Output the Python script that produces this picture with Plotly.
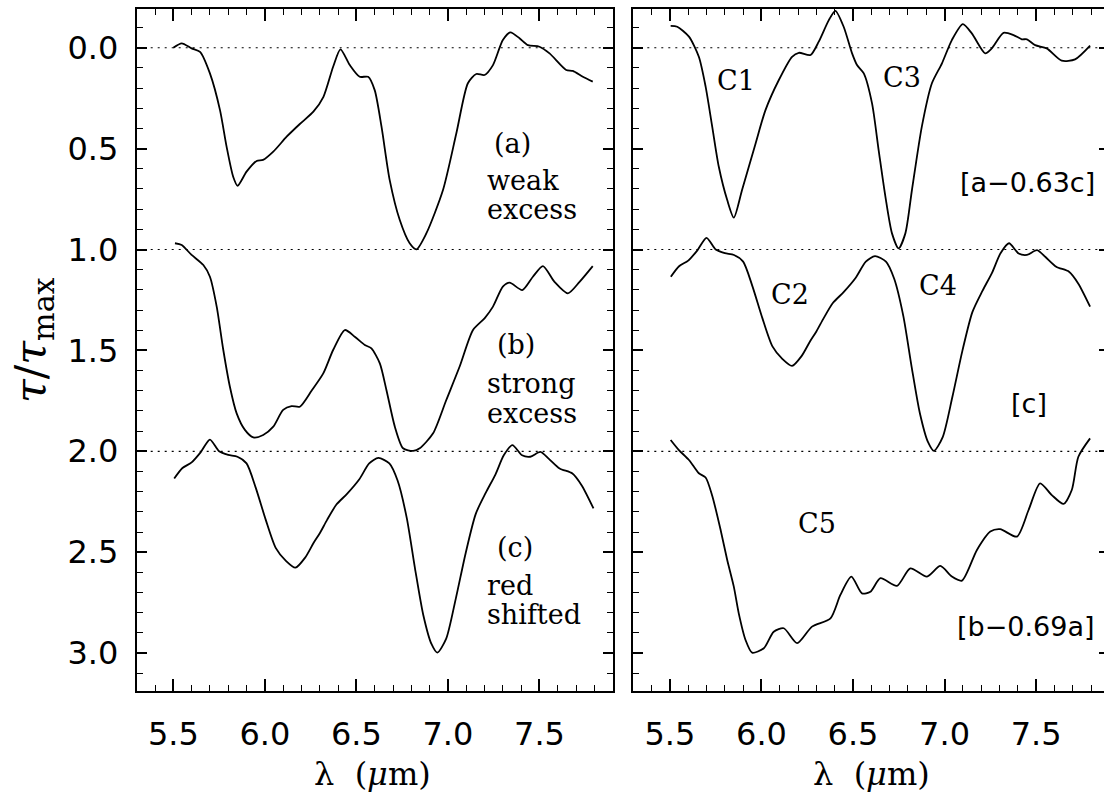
import plotly.graph_objects as go

# ---- profiles: wavelength (micron) and normalised optical depth tau/tau_max ----
# (a) weak excess
a_wl = [5.50, 5.546, 5.60, 5.646, 5.70, 5.755, 5.791, 5.827, 5.851, 5.90, 5.955, 5.99,
        6.046, 6.119, 6.191, 6.265, 6.32, 6.373, 6.413, 6.464, 6.518, 6.564, 6.60, 6.637,
        6.682, 6.737, 6.791, 6.828, 6.882, 6.973, 7.046, 7.109, 7.155, 7.20, 7.246, 7.30,
        7.341, 7.391, 7.437, 7.50, 7.555, 7.646, 7.682, 7.737, 7.791]
a_tau = [0.0, -0.022, 0.003, 0.02, 0.127, 0.309, 0.49, 0.639, 0.684, 0.614, 0.561, 0.556,
         0.515, 0.441, 0.378, 0.317, 0.243, 0.094, 0.008, 0.086, 0.144, 0.144, 0.21, 0.39,
         0.656, 0.854, 0.969, 0.999, 0.92, 0.705, 0.424, 0.176, 0.13, 0.135, 0.086, -0.038,
         -0.076, -0.047, -0.013, -0.005, 0.028, 0.11, 0.115, 0.144, 0.168]

# (b) strong excess
b_wl = [5.509, 5.546, 5.60, 5.664, 5.70, 5.737, 5.773, 5.809, 5.846, 5.891, 5.937, 5.991,
        6.046, 6.10, 6.146, 6.191, 6.255, 6.319, 6.373, 6.437, 6.491, 6.546, 6.582, 6.628,
        6.664, 6.71, 6.755, 6.81, 6.846, 6.919, 6.991, 7.064, 7.137, 7.20, 7.246, 7.30,
        7.337, 7.406, 7.464, 7.519, 7.582, 7.655, 7.719, 7.791]
b_tau = [-0.031, -0.022, 0.027, 0.077, 0.135, 0.283, 0.498, 0.68, 0.812, 0.894, 0.931, 0.919,
         0.878, 0.795, 0.776, 0.779, 0.70, 0.614, 0.498, 0.399, 0.432, 0.473, 0.49, 0.564,
         0.696, 0.878, 0.985, 0.998, 0.985, 0.911, 0.746, 0.58, 0.399, 0.341, 0.283, 0.184,
         0.164, 0.201, 0.135, 0.082, 0.16, 0.217, 0.16, 0.082]

# (c) red shifted
c_wl = [5.505, 5.55, 5.60, 5.65, 5.70, 5.75, 5.80, 5.85, 5.90, 5.95, 6.005, 6.06, 6.115,
        6.167, 6.22, 6.265, 6.30, 6.34, 6.39, 6.45, 6.515, 6.57, 6.62, 6.68, 6.725, 6.775,
        6.82, 6.865, 6.91, 6.942, 6.99, 7.043, 7.098, 7.152, 7.207, 7.26, 7.305, 7.352,
        7.405, 7.45, 7.505, 7.55, 7.61, 7.68, 7.73, 7.795]
c_tau = [0.135, 0.083, 0.055, 0.004, -0.058, 0.0, 0.018, 0.027, 0.06, 0.18, 0.34, 0.48, 0.543,
         0.577, 0.527, 0.456, 0.406, 0.34, 0.265, 0.21, 0.14, 0.06, 0.033, 0.06, 0.145, 0.33,
         0.58, 0.81, 0.955, 0.998, 0.93, 0.73, 0.50, 0.31, 0.205, 0.114, 0.02, -0.031,
         0.02, 0.027, 0.003, 0.036, 0.085, 0.11, 0.168, 0.283]

# residual [a - 0.63c]
ac_wl = [5.504, 5.54, 5.604, 5.658, 5.695, 5.731, 5.767, 5.813, 5.849, 5.894, 5.968, 6.022,
         6.095, 6.167, 6.204, 6.268, 6.313, 6.368, 6.404, 6.449, 6.495, 6.522, 6.559, 6.604,
         6.64, 6.677, 6.713, 6.749, 6.786, 6.822, 6.876, 6.931, 6.986, 7.04, 7.10, 7.149,
         7.222, 7.258, 7.322, 7.377, 7.422, 7.45, 7.495, 7.558, 7.64, 7.713, 7.795]
ac_tau = [-0.108, -0.104, -0.055, 0.045, 0.193, 0.391, 0.59, 0.755, 0.842, 0.705, 0.474, 0.309,
          0.16, 0.045, 0.025, 0.036, -0.03, -0.137, -0.183, -0.104, 0.028, 0.086, 0.127, 0.276,
          0.507, 0.738, 0.92, 0.994, 0.92, 0.705, 0.391, 0.176, 0.077, -0.038, -0.117, -0.071,
          0.028, 0.003, -0.074, -0.063, -0.042, -0.042, -0.013, 0.003, 0.064, 0.058, -0.01]

# residual [b - 0.69a]
ba_wl = [5.504, 5.549, 5.604, 5.658, 5.695, 5.731, 5.777, 5.813, 5.849, 5.876, 5.913, 5.949,
         6.013, 6.067, 6.122, 6.195, 6.276, 6.377, 6.431, 6.491, 6.549, 6.595, 6.65, 6.74,
         6.813, 6.904, 6.977, 7.04, 7.095, 7.177, 7.25, 7.304, 7.395, 7.459, 7.522, 7.586,
         7.65, 7.695, 7.731, 7.795]
ba_tau = [-0.056, -0.006, 0.043, 0.109, 0.13, 0.22, 0.39, 0.539, 0.671, 0.803, 0.935, 0.998,
          0.976, 0.894, 0.877, 0.951, 0.869, 0.828, 0.712, 0.621, 0.704, 0.696, 0.629, 0.667,
          0.58, 0.621, 0.568, 0.621, 0.641, 0.489, 0.398, 0.386, 0.423, 0.291, 0.159, 0.217,
          0.261, 0.192, 0.027, -0.064]

# vertical stacking offsets of the profiles
left_stack = [(a_wl, a_tau, 0.0), (b_wl, b_tau, 1.0), (c_wl, c_tau, 2.0)]
right_stack = [(ac_wl, ac_tau, 0.0), (c_wl, c_tau, 1.0), (ba_wl, ba_tau, 2.0)]
baseline_levels = [0.0, 1.0, 2.0]

x_range_left = [5.3, 7.9]
x_range_right = [5.3, 7.871]
y_range = [3.188, -0.192]

W, H = 1104, 795
TICK_FONT = dict(family="DejaVu Sans", size=32, color="black")
SERIF = "DejaVu Serif"

fig = go.Figure()

line_style = dict(color="black", width=1.8, shape="spline", smoothing=0.7)
for wl, tau, off in left_stack:
    fig.add_trace(go.Scatter(x=wl, y=[t + off for t in tau], mode="lines",
                             line=line_style, xaxis="x", yaxis="y", hoverinfo="skip"))
for wl, tau, off in right_stack:
    fig.add_trace(go.Scatter(x=wl, y=[t + off for t in tau], mode="lines",
                             line=line_style, xaxis="x2", yaxis="y2", hoverinfo="skip"))
# carrier for the right-hand tick axis of the second panel
fig.add_trace(go.Scatter(x=[None], y=[None], mode="lines", xaxis="x2", yaxis="y3",
                         hoverinfo="skip"))

y_dom = [1 - 691 / H, 1 - 9 / H]
x_dom_left = [136.7 / W, 612.7 / W]
x_dom_right = [633.3 / W, 1.0]


def x_axis(domain, rng, anchor):
    return dict(domain=domain, range=rng, anchor=anchor, showline=True, linewidth=2,
                linecolor="black", mirror="ticks", ticks="inside", ticklen=12, tickwidth=1.6,
                tickcolor="black", tick0=5.5, dtick=0.5, tickformat=".1f",
                minor=dict(dtick=0.1, tick0=5.5, ticks="inside", ticklen=6, tickwidth=1.3,
                           tickcolor="black"),
                showgrid=False, zeroline=False, tickfont=TICK_FONT, ticklabelstandoff=14)


def y_axis(anchor, mirror, labels):
    return dict(domain=y_dom, range=y_range, anchor=anchor, showline=True, linewidth=2,
                linecolor="black", mirror=mirror, ticks="inside", ticklen=10, tickwidth=1.6,
                tickcolor="black", tick0=0, dtick=0.5, tickformat=".1f",
                minor=dict(dtick=0.1, tick0=0, ticks="inside", ticklen=6, tickwidth=1.3,
                           tickcolor="black"),
                showgrid=False, zeroline=False, tickfont=TICK_FONT, showticklabels=labels,
                ticklabelstandoff=10)


fig.update_layout(
    width=W, height=H, margin=dict(l=0, r=0, t=0, b=0),
    paper_bgcolor="white", plot_bgcolor="white", showlegend=False,
    xaxis=x_axis(x_dom_left, x_range_left, "y"),
    yaxis=y_axis("x", "ticks", True),
    xaxis2=x_axis(x_dom_right, x_range_right, "y2"),
    yaxis2=y_axis("x2", False, False),
    yaxis3=dict(overlaying="y2", anchor="x2", side="right", range=y_range,
                showline=False, ticks="inside", ticklen=5, tickwidth=1.6, tickcolor="black",
                tick0=0, dtick=0.5, showticklabels=False, showgrid=False, zeroline=False),
)

# dotted reference levels
for lvl in baseline_levels:
    for xr, yr in (("x domain", "y"), ("x2 domain", "y2")):
        fig.add_shape(type="line", xref=xr, yref=yr, x0=0, x1=1, y0=lvl, y1=lvl,
                      line=dict(color="black", width=1.2, dash="2px,5px"), layer="below")

serif_font = dict(family=SERIF, size=27, color="black")
sans_font = dict(family="DejaVu Sans", size=27, color="black")

left_labels = [
    ("(a)", 7.239, 0.474), ("weak", 7.202, 0.656), ("excess", 7.202, 0.804),
    ("(b)", 7.257, 1.473), ("strong", 7.202, 1.664), ("excess", 7.202, 1.812),
    ("(c)", 7.257, 2.478), ("red", 7.202, 2.663), ("shifted", 7.202, 2.811),
]
for txt, xx, yy in left_labels:
    fig.add_annotation(text=txt, x=xx, y=yy, xref="x", yref="y", xanchor="left",
                       yanchor="middle", showarrow=False, font=serif_font)

component_labels = [("C1", 5.860, 0.16), ("C3", 6.766, 0.149), ("C2", 6.156, 1.225),
                    ("C4", 6.966, 1.176), ("C5", 6.302, 2.357)]
for txt, xx, yy in component_labels:
    fig.add_annotation(text=txt, x=xx, y=yy, xref="x2", yref="y2", xanchor="center",
                       yanchor="middle", showarrow=False, font=serif_font)

fig.add_annotation(text="[a\u22120.63c]", x=7.831, y=0.668, xref="x2", yref="y2",
                   xanchor="right", yanchor="middle", showarrow=False, font=sans_font)
fig.add_annotation(text="[c]", x=7.462, y=1.762, xref="x2", yref="y2",
                   xanchor="center", yanchor="middle", showarrow=False, font=sans_font)
fig.add_annotation(text="[b\u22120.69a]", x=7.831, y=2.869, xref="x2", yref="y2",
                   xanchor="right", yanchor="middle", showarrow=False, font=sans_font)

# axis titles
title_font = dict(family=SERIF, size=32, color="black")
for cx in (372, 871):
    fig.add_annotation(text="\u03bb\u00a0\u00a0(<i>\u03bc</i>m)", x=cx / W, y=1 - 774 / H,
                       xref="paper", yref="paper", xanchor="center", yanchor="middle",
                       showarrow=False, font=title_font)
fig.add_annotation(text="<i>\u03c4</i>/<i>\u03c4</i><sub>max</sub>", x=33 / W, y=1 - 340 / H,
                   xref="paper", yref="paper", xanchor="center", yanchor="middle",
                   textangle=-90, showarrow=False, font=dict(family=SERIF, size=43, color="black"))

fig.write_html("out.html")
